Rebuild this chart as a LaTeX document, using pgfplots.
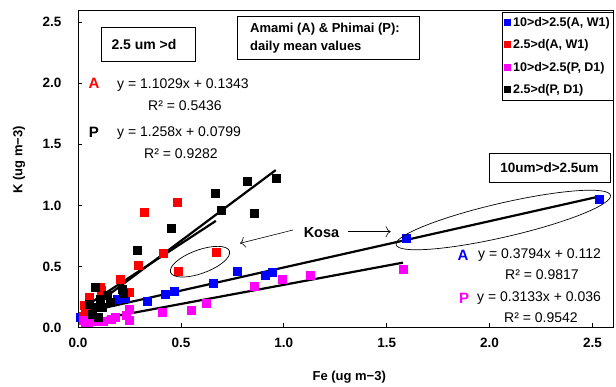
\documentclass[border=0pt]{standalone}
\usepackage{fontspec}
\setmainfont{Liberation Sans}
\usepackage{pgfplots}
\pgfplotsset{compat=1.18}
\usetikzlibrary{arrows.meta}

\definecolor{ptblue}{RGB}{0,0,255}
\definecolor{ptred}{RGB}{255,0,0}
\definecolor{ptmag}{RGB}{255,0,255}

\newcommand{\eqfont}{\fontsize{14}{16}\selectfont}

\begin{document}
\begin{tikzpicture}
\useasboundingbox (-78pt,-59.5pt) rectangle (538pt,327.5pt);
\begin{axis}[
  at={(0pt,0pt)}, anchor=south west,
  scale only axis, width=535pt, height=317.5pt,
  xmin=0, xmax=2.6, ymin=0, ymax=2.6,
  xtick={0,0.5,...,2.5}, ytick={0,0.5,...,2.5},
  tick align=inside, xtick pos=bottom, ytick pos=left,
  major tick length=4pt,
  tick style={black, line width=0.6pt},
  axis line style={line width=0.9pt},
  /pgf/number format/assume math mode=true,
  /pgf/number format/.cd, fixed, fixed zerofill, precision=1, /pgfplots/.cd,
  ticklabel style={font=\bfseries\fontsize{13.5}{16}\selectfont},
  yticklabel style={xshift=-13pt},
  xticklabel style={yshift=-7pt},
  xlabel={Fe (ug m−3)}, ylabel={K (ug m−3)},
  label style={font=\bfseries\fontsize{13}{15}\selectfont},
  xlabel style={at={(axis description cs:0.507,-0.156)}, anchor=center},
  ylabel style={at={(axis description cs:-0.110,0.528)}, anchor=center},
  legend style={at={(1,1)}, anchor=north east, xshift=1pt, yshift=-1.7pt,
    draw=black, line width=0.6pt, font=\bfseries\fontsize{12.5}{14}\selectfont,
    row sep=8pt, inner xsep=2pt, inner ysep=3pt},
  legend cell align=left,
  legend image code/.code={\fill[#1] (-1.5pt,-3.5pt) rectangle (5.5pt,3.5pt);},
]
% coarse particles, Amami
\addplot[only marks, mark=square*, mark size=4pt, ptblue, draw=none] coordinates {
 (0.010,0.088) (0.190,0.232) (0.228,0.242) (0.335,0.213) (0.426,0.270)
 (0.468,0.295) (0.657,0.364) (0.772,0.460) (0.908,0.432) (0.945,0.452)
 (1.595,0.730) (2.531,1.050)};
\addlegendentry{10>d>2.5(A, W1)}
% fine particles, Amami
\addplot[only marks, mark=square*, mark size=4pt, ptred, draw=none] coordinates {
 (0.026,0.090) (0.035,0.140) (0.030,0.180) (0.055,0.215) (0.053,0.250)
 (0.110,0.330) (0.115,0.305) (0.207,0.394) (0.250,0.290) (0.293,0.512)
 (0.320,0.945) (0.414,0.609) (0.484,1.027) (0.487,0.457) (0.670,0.614)};
\addlegendentry{2.5>d(A, W1)}
% coarse particles, Phimai
\addplot[only marks, mark=square*, mark size=4pt, ptmag, draw=none] coordinates {
 (0.026,0.058) (0.037,0.040) (0.050,0.044) (0.078,0.055) (0.123,0.050)
 (0.159,0.069) (0.180,0.085) (0.232,0.097) (0.249,0.063) (0.249,0.146)
 (0.408,0.127) (0.548,0.140) (0.625,0.200) (0.857,0.340) (0.990,0.394)
 (1.127,0.428) (1.579,0.477)};
\addlegendentry{10>d>2.5(P, D1)}
% fine particles, Phimai
\addplot[only marks, mark=square*, mark size=4pt, black, draw=none] coordinates {
 (0.053,0.190) (0.078,0.165) (0.070,0.110) (0.099,0.085) (0.086,0.330)
 (0.110,0.234) (0.142,0.262) (0.120,0.170) (0.155,0.210) (0.217,0.310)
 (0.220,0.280) (0.290,0.636) (0.451,0.810) (0.665,1.100) (0.697,0.959)
 (0.824,1.198) (0.854,0.937) (0.961,1.220)};
\addlegendentry{2.5>d(P, D1)}
% linear fits
\addplot[black, line width=2.2pt, forget plot] coordinates {(0.026,0.163) (0.670,0.873)};
\addplot[black, line width=2.2pt, forget plot] coordinates {(0.053,0.147) (0.961,1.289)};
\addplot[black, line width=2.2pt, forget plot] coordinates {(0.010,0.116) (2.531,1.072)};
\addplot[black, line width=2.2pt, forget plot] coordinates {(0.026,0.044) (1.579,0.531)};
\end{axis}

% text boxes
\draw[line width=0.8pt] (23pt,266.5pt) rectangle (117pt,299.8pt);
\node[font=\bfseries\fontsize{14}{16}\selectfont, inner sep=0pt] at (66pt,283pt) {2.5 um >d};
\draw[line width=0.8pt] (159pt,268.2pt) rectangle (341pt,310.8pt);
\node[font=\bfseries\fontsize{13}{18}\selectfont, inner sep=0pt, anchor=west, align=left]
  at (172pt,289.5pt) {Amami (A) \& Phimai (P):\\daily mean values};
\draw[line width=0.8pt] (411pt,145.5pt) rectangle (532.7pt,174.5pt);
\node[font=\bfseries\fontsize{13.5}{16}\selectfont, inner sep=0pt] at (471.5pt,159.5pt) {10um>d>2.5um};

% Kosa
\node[font=\bfseries\fontsize{14.5}{16}\selectfont, inner sep=0pt] at (243.5pt,94.5pt) {Kosa};
\draw[line width=0.6pt, -{To[length=5pt,width=11pt]}] (215pt,97.5pt) -- (162pt,84.2pt);
\draw[line width=0.6pt, -{To[length=5pt,width=11pt]}] (270pt,95.8pt) -- (312.7pt,95.8pt);
\draw[line width=0.7pt, rotate around={20:(122pt,65.8pt)}] (122pt,65.8pt) ellipse [x radius=31.3pt, y radius=11.7pt];
\draw[line width=0.7pt, rotate around={13:(425.3pt,107.5pt)}] (425.3pt,107.5pt) ellipse [x radius=110pt, y radius=17pt];

% fit equations
\node[font=\bfseries\fontsize{15}{16}\selectfont, text=ptred, inner sep=0pt] at (16pt,244.5pt) {A};
\node[font=\eqfont, inner sep=0pt, anchor=west] at (39pt,242.5pt) {y = 1.1029x + 0.1343};
\node[font=\eqfont, inner sep=0pt, anchor=west] at (70pt,221.5pt) {R² = 0.5436};
\node[font=\bfseries\fontsize{15}{16}\selectfont, text=black, inner sep=0pt] at (16pt,195.5pt) {P};
\node[font=\eqfont, inner sep=0pt, anchor=west] at (39pt,194.5pt) {y = 1.258x + 0.0799};
\node[font=\eqfont, inner sep=0pt, anchor=west] at (66pt,173.5pt) {R² = 0.9282};
\node[font=\bfseries\fontsize{15}{16}\selectfont, text=ptblue, inner sep=0pt] at (385pt,72.5pt) {A};
\node[font=\eqfont, inner sep=0pt, anchor=west] at (400pt,72.5pt) {y = 0.3794x + 0.112};
\node[font=\eqfont, inner sep=0pt, anchor=west] at (427pt,53.2pt) {R² = 0.9817};
\node[font=\bfseries\fontsize{15}{16}\selectfont, text=ptmag, inner sep=0pt] at (386pt,29.5pt) {P};
\node[font=\eqfont, inner sep=0pt, anchor=west] at (399pt,29.5pt) {y = 0.3133x + 0.036};
\node[font=\eqfont, inner sep=0pt, anchor=west] at (426pt,9.5pt) {R² = 0.9542};
\end{tikzpicture}
\end{document}
